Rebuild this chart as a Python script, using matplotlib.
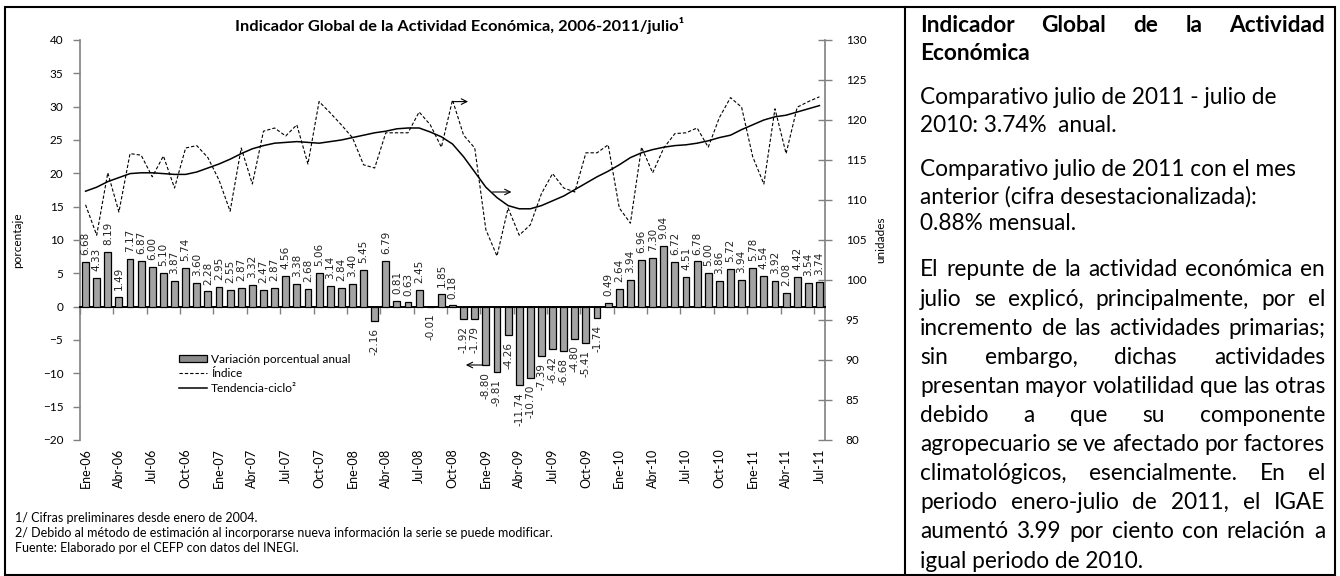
import matplotlib
matplotlib.use("Agg")
import matplotlib.pyplot as plt
import matplotlib.patches as mpatches
import matplotlib.lines as mlines
import numpy as np

# variacion porcentual anual, ene-2006 .. jul-2011
variacion = [6.68, 4.33, 8.19, 1.49, 7.17, 6.87, 6.00, 5.10, 3.87, 5.74, 3.60, 2.28,
             2.95, 2.55, 2.87, 3.32, 2.47, 2.87, 4.56, 3.38, 2.68, 5.06, 3.14, 2.84,
             3.40, 5.45, -2.16, 6.79, 0.81, 0.63, 2.45, -0.01, 1.85, 0.18, -1.92, -1.79,
             -8.80, -9.81, -4.26, -11.74, -10.70, -7.39, -6.42, -6.68, -4.80, -5.41, -1.74, 0.49,
             2.64, 3.94, 6.96, 7.30, 9.04, 6.72, 4.51, 6.78, 5.00, 3.86, 5.72, 3.94,
             5.78, 4.54, 3.92, 2.08, 4.42, 3.54, 3.74]

indice = [109.4, 105.6, 113.4, 108.5, 115.8, 115.6, 112.9, 115.5, 111.5, 116.5, 116.8, 115.3,
          112.5, 108.6, 116.5, 112.0, 118.6, 119.0, 118.0, 119.4, 114.5, 122.3, 120.9, 119.4,
          117.8, 114.4, 114.0, 118.4, 118.4, 118.4, 121.0, 119.4, 116.6, 122.5, 118.1, 116.5,
          106.3, 103.0, 109.0, 105.6, 106.9, 110.8, 113.3, 111.5, 111.0, 115.9, 115.9, 116.9,
          109.0, 107.1, 116.6, 113.4, 116.5, 118.3, 118.4, 119.0, 116.6, 120.3, 122.8, 121.6,
          115.4, 112.0, 121.4, 115.8, 121.6, 122.3, 122.9]

tendencia = [111.1, 111.6, 112.3, 112.8, 113.3, 113.4, 113.4, 113.3, 113.2, 113.2, 113.5, 114.0,
             114.5, 115.1, 115.8, 116.4, 116.8, 117.1, 117.2, 117.3, 117.2, 117.1, 117.3, 117.5,
             117.8, 118.1, 118.4, 118.6, 118.9, 119.0, 119.0, 118.5, 117.9, 117.0, 115.4, 113.5,
             111.6, 110.3, 109.3, 108.9, 108.9, 109.3, 109.9, 110.5, 111.3, 112.1, 112.9, 113.6,
             114.4, 115.3, 115.9, 116.3, 116.6, 116.8, 116.9, 117.1, 117.4, 117.8, 118.1, 118.8,
             119.4, 120.0, 120.4, 120.6, 121.0, 121.4, 121.8]

etiquetas_mes = ["Ene-06", "Abr-06", "Jul-06", "Oct-06", "Ene-07", "Abr-07", "Jul-07", "Oct-07",
                 "Ene-08", "Abr-08", "Jul-08", "Oct-08", "Ene-09", "Abr-09", "Jul-09", "Oct-09",
                 "Ene-10", "Abr-10", "Jul-10", "Oct-10", "Ene-11", "Abr-11", "Jul-11"]

# flechas que indican el eje de cada serie: (x inicio, x fin, y, eje)
flechas = [(33.0, 34.4, 122.3, "der"), (36.6, 38.3, 111.0, "der"), (35.7, 34.2, -8.75, "izq")]

W, H = 1340, 576
FONT = ["Lato", "DejaVu Sans"]
plt.rcParams["font.family"] = FONT

fig = plt.figure(figsize=(W / 100, H / 100), dpi=100)
fx = lambda x: x / W
fy = lambda y: 1 - y / H

ax = fig.add_axes([fx(80), fy(440), fx(825) - fx(80), fy(40) - fy(440)])
ax2 = ax.twinx()
ax.set_zorder(2)
ax.patch.set_visible(False)

n = len(variacion)
x = np.arange(n)
barras = ax.bar(x, variacion, width=0.62, color="#a3a3a3", edgecolor="black", linewidth=0.9, zorder=3)
ax.bar_label(barras, fmt="%.2f", rotation=90, padding=5, fontsize=7.5,
             family="DejaVu Sans", color="#222222")

ax2.plot(x, indice, color="black", lw=0.8, ls=(0, (3, 1.8)), zorder=2)
ax2.plot(x, tendencia, color="black", lw=1.1, zorder=2)

ax.set_xlim(-0.5, n - 0.5)
ax.set_ylim(-20, 40)
ax2.set_ylim(80, 130)
ax.set_yticks(np.arange(-20, 41, 5))
ax2.set_yticks(np.arange(80, 131, 5))

for a in (ax, ax2):
    a.spines["top"].set_visible(False)
ax2.spines["bottom"].set_visible(False)
ax.spines["right"].set_visible(False)
ax2.spines["left"].set_visible(False)
ax.spines["left"].set_color("#808080")
ax2.spines["right"].set_color("#808080")
ax.spines["left"].set_linewidth(1.2)
ax2.spines["right"].set_linewidth(1.2)

ax.tick_params(axis="y", direction="out", length=5, width=1, color="#808080",
               pad=7, labelsize=8.5)
ax2.tick_params(axis="y", direction="inout", length=10, width=1, color="#808080",
                pad=10, labelsize=8.5)

# eje de categorias en cero
ax.spines["bottom"].set_position(("data", 0))
ax.spines["bottom"].set_linewidth(1.4)
ax.set_xticks([])
ax.set_xticks(np.arange(-0.5, n, 3), minor=True)
ax.tick_params(axis="x", which="minor", direction="out", length=5, width=1, color="#808080")

sec = ax.secondary_xaxis("bottom")
sec.set_xticks(np.arange(0, n, 3), labels=etiquetas_mes, rotation=90)
sec.tick_params(length=0, pad=6, labelsize=9)
sec.spines["bottom"].set_visible(False)

ax.set_ylabel("porcentaje", fontsize=8.5, labelpad=14)
ax2.set_ylabel("unidades", fontsize=8.5, labelpad=6)

for x0, x1, yv, eje in flechas:
    a = ax2 if eje == "der" else ax
    a.annotate("", xy=(x1, yv), xytext=(x0, yv),
               arrowprops=dict(arrowstyle="->", lw=0.8, color="black", shrinkA=0, shrinkB=0))

h_bar = mpatches.Patch(facecolor="#8c8c8c", edgecolor="black", linewidth=0.9)
h_ind = mlines.Line2D([], [], color="black", lw=0.8, ls=(0, (3, 1.8)))
h_ten = mlines.Line2D([], [], color="black", lw=1.1)
fig.legend([h_bar, h_ind, h_ten],
           ["Variación porcentual anual", "Índice", "Tendencia-ciclo²"],
           loc="upper left", bbox_to_anchor=(fx(168), fy(343)), frameon=False,
           fontsize=8.6, handlelength=2.4, handleheight=0.6, handletextpad=0.3, labelspacing=0.3)

fig.text(fx(460), fy(25), "Indicador Global de la Actividad Económica, 2006-2011/julio¹",
         ha="center", va="center", fontsize=11.8, fontweight="bold")

notas = ["1/ Cifras preliminares desde enero de 2004.",
         "2/ Debido al método de estimación al incorporarse nueva información la serie se puede modificar.",
         "Fuente: Elaborado por el CEFP con datos del INEGI."]
for i, t in enumerate(notas):
    fig.text(fx(15), fy(518 + 15 * i), t, ha="left", va="center", fontsize=9)

# marco
fig.add_artist(mpatches.Rectangle((fx(5), fy(575)), fx(1335) - fx(5), fy(7) - fy(575),
                                  transform=fig.transFigure, fill=False, lw=1.5, ec="black"))
fig.add_artist(mlines.Line2D([fx(905), fx(905)], [fy(7), fy(575)],
                             transform=fig.transFigure, lw=1.5, color="black"))

# panel de texto
renderer = fig.canvas.get_renderer()
X0, X1 = 920, 1325
FS = 16.3


def linea(texto, y, justificar=False, **kw):
    if not justificar:
        fig.text(fx(X0), fy(y), texto, ha="left", va="center", fontsize=FS, **kw)
        return
    palabras = texto.split()
    objs = [fig.text(0, fy(y), p, ha="left", va="center", fontsize=FS, **kw) for p in palabras]
    anchos = [o.get_window_extent(renderer).width for o in objs]
    hueco = (X1 - X0 - sum(anchos)) / (len(objs) - 1)
    pos = X0
    for o, w in zip(objs, anchos):
        o.set_x(fx(pos))
        pos += w + hueco


linea("Indicador Global de la Actividad", 25, True, fontweight="bold")
linea("Económica", 53, fontweight="bold")
linea("Comparativo julio de 2011 - julio de", 97)
linea("2010: 3.74%  anual.", 125)
linea("Comparativo julio de 2011 con el mes", 170)
linea("anterior (cifra desestacionalizada):", 197)
linea("0.88% mensual.", 223)

parrafo = ["El repunte de la actividad económica en",
           "julio se explicó, principalmente, por el",
           "incremento de las actividades primarias;",
           "sin embargo, dichas actividades",
           "presentan mayor volatilidad que las otras",
           "debido a que su componente",
           "agropecuario se ve afectado por factores",
           "climatológicos, esencialmente. En el",
           "periodo enero-julio de 2011, el IGAE",
           "aumentó 3.99 por ciento con relación a",
           "igual periodo de 2010."]
for i, t in enumerate(parrafo):
    linea(t, 270 + 29.1 * i, justificar=(i < len(parrafo) - 1))

fig.savefig("out.png", dpi=100)
